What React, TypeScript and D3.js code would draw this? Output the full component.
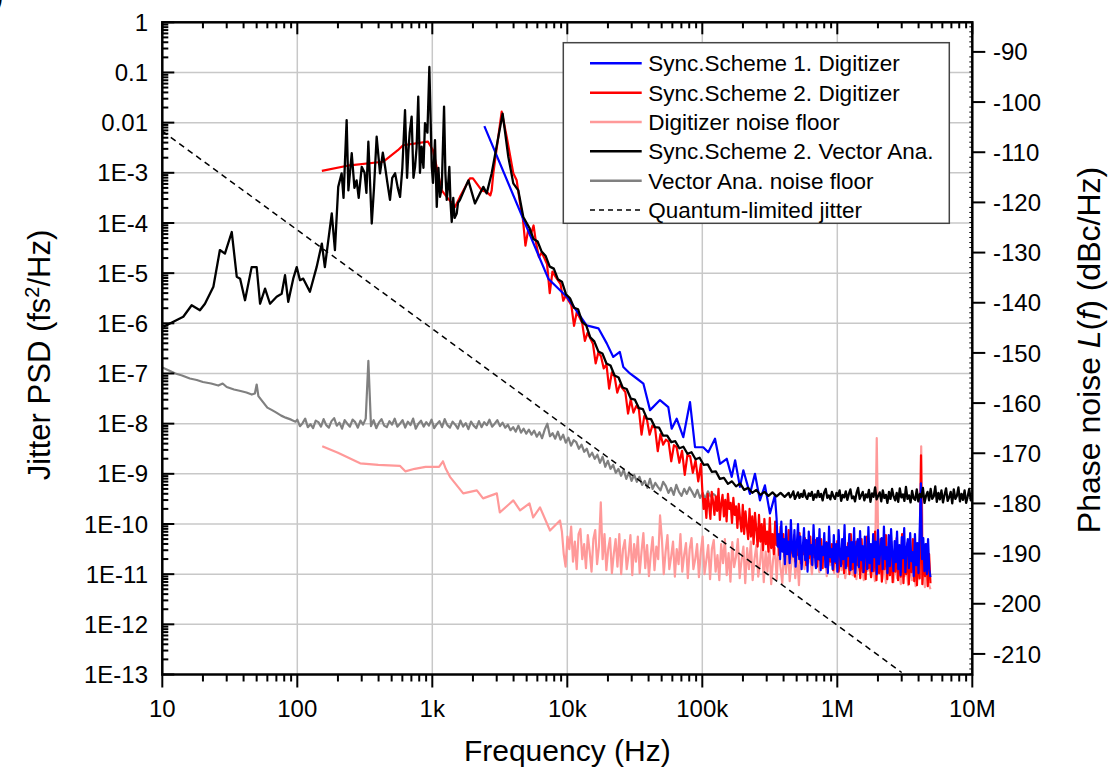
import React from "react";
import * as d3 from "d3";

const WIDTH = 1111;
const HEIGHT = 774;
const PLOT = { left: 162.3, right: 972.3, top: 22.3, bottom: 674.5 };
const FONT = "'Liberation Sans', Arial, Helvetica, sans-serif";

// ---- axes ----
const freqTicks = [10, 100, 1e3, 1e4, 1e5, 1e6, 1e7];
const freqTickLabels = ["10", "100", "1k", "10k", "100k", "1M", "10M"];
const psdTicks = [1, 0.1, 0.01, 1e-3, 1e-4, 1e-5, 1e-6, 1e-7, 1e-8, 1e-9, 1e-10, 1e-11, 1e-12, 1e-13];
const psdTickLabels = ["1", "0.1", "0.01", "1E-3", "1E-4", "1E-5", "1E-6", "1E-7", "1E-8", "1E-9", "1E-10", "1E-11", "1E-12", "1E-13"];
const phaseTicks = [-90, -100, -110, -120, -130, -140, -150, -160, -170, -180, -190, -200, -210];
// L(f) in dBc/Hz at the bottom and top edges of the plot
const phaseDomain = [-214.1, -84.1];

const legendLabels = [
  "Sync.Scheme 1. Digitizer",
  "Sync.Scheme 2. Digitizer",
  "Digitizer noise floor",
  "Sync.Scheme 2. Vector Ana.",
  "Vector Ana. noise floor",
  "Quantum-limited jitter",
];

// ---- data: jitter PSD as log10(fs^2/Hz) ----
// Listed points: frequency in Hz. Swept parts: log10(Hz) start/stop of an evenly log-spaced sweep.

// Sync.Scheme 2, vector analyzer
const vaHeadFreq = [10.2, 14.3, 16.5, 19, 20.7, 23.9, 26.7, 29.1, 32.7, 35.6, 37.7, 41, 45.9, 50, 53, 57.7, 62.8, 70.3, 76.6, 81.1, 85.7, 93.3, 99, 104.7, 110.7, 124, 139, 152, 160, 180, 190, 201, 213, 220, 232, 239, 253, 265, 275, 285, 300, 315, 325, 336, 356, 370, 387, 410, 430, 447, 465, 486, 505, 530, 555, 577, 600, 628, 650, 664, 680, 703, 725, 745, 765, 787, 810, 834, 860, 883, 920, 951, 991, 1012, 1047, 1079, 1110, 1140, 1175, 1222, 1250, 1279, 1305, 1337, 1365, 1393, 1430, 1463, 1517, 1550, 1603, 1849, 2070, 2254, 2388, 2529, 2754, 3319, 3656, 3981, 4335, 4721];
const vaHeadLog = [-6.07, -5.87, -5.64, -5.74, -5.61, -5.27, -4.54, -4.61, -4.18, -5.07, -5.11, -5.54, -4.88, -4.88, -5.61, -5.31, -5.61, -5.47, -5.41, -5.04, -5.57, -5.11, -4.88, -5.14, -5.11, -5.37, -4.88, -4.41, -4.88, -3.81, -4.54, -3.28, -3.01, -3.5, -1.95, -3.35, -2.61, -3.3, -3.15, -3.5, -2.88, -3.0, -3.4, -2.38, -4.01, -3.3, -2.28, -3.01, -2.6, -2.88, -3.2, -3.54, -3.1, -3.01, -3.3, -3.48, -2.9, -1.75, -3.1, -2.61, -2.2, -1.88, -3.1, -2.88, -2.5, -1.48, -3.0, -2.48, -2.9, -2.01, -2.2, -0.89, -2.88, -3.2, -2.35, -3.68, -2.9, -3.48, -3.3, -1.68, -3.0, -3.54, -3.3, -2.88, -3.6, -3.98, -3.5, -3.9, -3.81, -3.6, -3.54, -3.15, -3.61, -3.41, -3.28, -3.41, -3.01, -1.82, -2.68, -3.21, -3.35, -3.88];
const vaMidSweep = [3.72, 5.61];
const vaMidLog = [
  -4.1, -4.32, -4.37, -4.57, -4.66, -4.87, -4.91, -5.12, -5.17, -5.42,
  -5.5, -5.69, -5.72, -5.97, -6.04, -6.28, -6.36, -6.56, -6.6, -6.8,
  -6.84, -7.04, -7.08, -7.28, -7.31, -7.5, -7.52, -7.69, -7.71, -7.9,
  -7.91, -8.07, -8.08, -8.24, -8.24, -8.37, -8.35, -8.49, -8.46, -8.6,
  -8.57, -8.71, -8.68, -8.82, -8.81, -8.96, -8.95, -9.1, -9.08, -9.2,
  -9.15, -9.25, -9.19, -9.32, -9.28, -9.38, -9.32, -9.42, -9.36, -9.44,
  -9.37, -9.45, -9.38, -9.46,
];
const vaFloorSweep = [5.64, 7.0];
const vaFloorLog = [
  -9.38, -9.47, -9.42, -9.35, -9.5, -9.44, -9.37, -9.48, -9.4, -9.46,
  -9.33, -9.45, -9.5, -9.39, -9.44, -9.36, -9.52, -9.41, -9.47, -9.34,
  -9.46, -9.4, -9.53, -9.37, -9.3, -9.48, -9.43, -9.51, -9.36, -9.45,
  -9.5, -9.38, -9.44, -9.33, -9.54, -9.42, -9.47, -9.35, -9.52, -9.4,
  -9.31, -9.49, -9.45, -9.55, -9.38, -9.28, -9.5, -9.43, -9.36, -9.53,
  -9.41, -9.47, -9.32, -9.56, -9.39, -9.46, -9.27, -9.51, -9.44, -9.37,
  -9.55, -9.33, -9.48, -9.42, -9.58, -9.36, -9.5, -9.3, -9.45, -9.53,
  -9.38, -9.56, -9.29, -9.47, -9.41, -9.54, -9.26, -9.5, -9.43, -9.57,
  -9.34, -9.49, -9.52, -9.31, -9.55, -9.4, -9.47, -9.28, -9.58, -9.44,
  -9.36, -9.53, -9.3, -9.5, -9.45, -9.25, -9.56, -9.38, -9.51, -9.33,
  -9.57, -9.42, -9.29, -9.54, -9.47, -9.36, -9.59, -9.31, -9.5, -9.44,
  -9.27, -9.55, -9.4, -9.52, -9.33, -9.58, -9.45, -9.3, -9.53, -9.42,
];

// Vector analyzer noise floor
const vaNoiseHeadFreq = [10, 11, 12.5, 14, 16, 18, 20, 23, 26, 28, 30, 34, 38, 42, 46, 48.5, 50, 51.5, 55, 60, 65, 70, 76, 82, 90, 97];
const vaNoiseHeadLog = [-6.88, -6.93, -7.0, -7.04, -7.1, -7.13, -7.17, -7.2, -7.24, -7.2, -7.27, -7.32, -7.35, -7.38, -7.42, -7.4, -7.22, -7.45, -7.55, -7.68, -7.73, -7.78, -7.84, -7.88, -7.92, -7.96];
const vaNoiseSweep = [2.0, 5.1];
const vaNoiseLog = [
  -7.92, -8.05, -7.99, -7.9, -8.07, -8.01, -8.09, -7.94, -7.97, -8.06,
  -7.91, -8.03, -8.08, -7.95, -7.89, -8.04, -7.98, -8.1, -7.93, -8.0,
  -8.06, -7.92, -7.97, -8.08, -7.94, -8.02, -7.9, -6.75, -8.05, -7.93,
  -8.09, -7.98, -7.91, -8.04, -8.07, -7.95, -8.02, -7.9, -8.06, -8.0,
  -7.93, -8.08, -7.96, -8.03, -7.9, -8.1, -8.0, -7.94, -8.06, -7.97,
  -8.04, -7.92, -8.09, -8.01, -7.95, -8.07, -7.91, -8.03, -8.08, -7.96,
  -8.02, -8.1, -7.94, -8.06, -7.99, -8.11, -7.96, -8.04, -8.09, -7.95,
  -8.07, -7.97, -8.03, -7.92, -8.06, -8.0, -7.93, -8.05, -7.98, -8.08,
  -8.02, -8.13, -8.07, -8.16, -8.04, -8.18, -8.1, -8.2, -8.12, -8.22,
  -8.14, -8.26, -8.17, -8.29, -8.12, -8.0, -8.25, -8.19, -8.3, -8.16,
  -8.32, -8.22, -8.38, -8.28, -8.44, -8.33, -8.37, -8.5, -8.42, -8.56,
  -8.5, -8.66, -8.58, -8.7, -8.62, -8.78, -8.66, -8.86, -8.74, -8.9,
  -8.82, -8.98, -8.9, -9.04, -8.92, -9.1, -8.97, -9.14, -9.02, -9.16,
  -9.06, -9.22, -9.14, -9.28, -9.1, -9.3, -9.18, -9.26, -9.33, -9.16,
  -9.24, -9.38, -9.28, -9.42, -9.22, -9.36, -9.44, -9.3, -9.4, -9.27,
  -9.36, -9.46, -9.32, -9.48, -9.38, -9.5, -9.35, -9.45, -9.4, -9.44,
];

// Sync.Scheme 2, digitizer
const dig2HeadFreq = [152, 245, 432, 556, 607, 929, 1012, 1175, 1279, 1472, 1603, 1901, 2000, 2323, 2529, 2690, 2754, 2831, 3266, 3556, 3981, 4217];
const dig2HeadLog = [-2.96, -2.85, -2.78, -2.55, -2.45, -2.38, -2.55, -3.35, -3.48, -3.68, -3.48, -3.11, -3.11, -3.35, -3.38, -3.45, -3.35, -3.01, -1.78, -2.28, -3.01, -3.15];
const dig2MidSweep = [3.65, 4.99];
const dig2MidLog = [
  -3.61, -3.89, -4.45, -4.14, -4.23, -4.05, -4.42, -4.68, -4.59, -4.7,
  -4.82, -5.4, -4.97, -5.06, -5.14, -5.22, -5.55, -5.44, -5.55, -5.64,
  -6.05, -5.78, -5.88, -5.99, -6.35, -6.19, -6.3, -6.41, -6.8, -6.58,
  -6.66, -6.9, -6.82, -7.3, -6.98, -7.06, -7.38, -7.22, -7.3, -7.37,
  -7.8, -7.52, -7.78, -7.65, -7.71, -8.22, -7.85, -7.92, -8.22, -8.04,
  -8.09, -8.55, -8.21, -8.42, -8.32, -8.36, -8.75, -8.43, -8.47, -8.78,
  -8.54, -9.02, -8.62, -8.65, -8.98, -8.73, -9.15, -8.8,
];
const dig2TailSweep = [5.0, 6.69];
const dig2TailLog = [
  -9.32, -9.7, -9.5, -9.88, -9.4, -9.62, -9.9, -9.36, -9.55, -9.82,
  -9.45, -9.74, -9.3, -9.92, -9.6, -9.42, -9.85, -9.52, -9.95, -9.4,
  -9.7, -9.58, -9.98, -9.48, -9.82, -9.65, -10.08, -9.6, -9.9, -10.15,
  -9.62, -10.2, -9.75, -10.05, -10.3, -9.7, -10.25, -9.85, -10.4, -9.78,
  -10.1, -10.45, -9.82, -10.35, -10.0, -10.52, -9.9, -10.4, -10.15, -10.55,
  -9.88, -10.48, -10.2, -10.6, -9.95, -10.42, -10.25, -10.62, -10.05, -10.5,
  -10.2, -10.65, -10.3, -10.52, -10.12, -10.7, -10.38, -10.58, -10.22, -10.75,
  -10.35, -10.62, -10.18, -10.78, -10.45, -10.6, -10.28, -10.82, -10.4, -10.68,
  -10.25, -10.8, -10.5, -10.66, -10.32, -10.85, -10.42, -10.72, -10.3, -10.88,
  -10.48, -10.7, -10.36, -10.9, -10.55, -10.75, -10.4, -10.92, -10.5, -10.78,
  -10.34, -10.95, -10.6, -10.8, -10.42, -10.98, -10.52, -10.84, -10.38, -11.0,
  -10.2, -10.9, -10.55, -11.05, -10.35, -10.82, -10.62, -11.08, -10.3, -10.96,
  -10.5, -11.1, -10.25, -10.88, -10.6, -11.06, -10.4, -10.94, -10.15, -11.12,
  -10.45, -10.98, -10.3, -11.15, -10.58, -10.9, -10.22, -11.1, -10.5, -11.02,
  -10.35, -11.16, -10.62, -10.95, -10.28, -11.12, -10.48, -11.05, -10.2, -11.18,
  -10.55, -11.0, -10.38, -11.2, -10.6, -10.96, -10.3, -11.14, -10.52, -11.22,
  -10.42, -11.08, -8.63, -11.2, -10.55, -11.04, -10.4, -11.24, -10.6, -11.18,
];

// Sync.Scheme 1, digitizer
const dig1HeadFreq = [2430, 7230, 9900, 13900, 17000, 19600, 21900, 24500, 26000, 29100, 32700, 36600, 41000, 48600, 56000, 59300, 64600, 72300, 81100, 88300, 101600, 110700, 124200, 135200, 151700, 165200, 175000, 190100, 201400, 225400, 245500, 267300, 291100, 317000, 345100];
const dig1HeadLog = [-2.07, -5.11, -5.47, -6.04, -6.1, -6.4, -6.67, -6.57, -6.87, -7.0, -7.1, -7.2, -7.73, -7.53, -7.67, -8.1, -7.9, -8.27, -7.57, -8.47, -8.47, -8.57, -8.3, -8.8, -8.7, -9.06, -8.73, -9.26, -8.93, -9.4, -9.0, -9.53, -9.23, -9.79, -9.43];
const dig1TailSweep = [5.55, 6.69];
const dig1TailLog = [
  -9.88, -10.45, -10.2, -10.7, -9.95, -10.55, -10.3, -10.8, -10.05, -10.6,
  -10.35, -10.78, -9.92, -10.5, -10.65, -10.12, -10.85, -10.4, -10.0, -10.7,
  -10.25, -10.9, -10.48, -10.08, -10.72, -10.32, -10.95, -10.15, -10.6, -10.42,
  -10.82, -10.02, -10.55, -10.88, -10.28, -10.7, -10.1, -10.92, -10.45, -10.62,
  -10.18, -10.86, -10.38, -10.98, -10.05, -10.66, -10.5, -10.9, -10.22, -10.75,
  -10.4, -10.95, -10.12, -10.58, -10.84, -10.3, -10.7, -10.02, -10.88, -10.46,
  -10.64, -10.2, -10.92, -10.36, -10.76, -10.08, -10.98, -10.5, -10.3, -10.86,
  -10.14, -10.72, -10.44, -10.96, -10.25, -10.6, -10.9, -10.06, -10.78, -10.4,
  -10.94, -10.2, -10.66, -10.35, -11.0, -10.12, -10.8, -10.52, -10.28, -10.9,
  -10.05, -10.7, -10.46, -10.98, -10.22, -10.84, -10.1, -10.62, -10.94, -10.34,
  -10.76, -10.15, -10.9, -10.42, -11.02, -10.26, -10.68, -10.08, -10.96, -10.5,
  -10.3, -10.88, -10.18, -10.74, -10.56, -11.04, -10.2, -10.82, -10.38, -10.98,
  -10.12, -9.19, -10.7, -10.28, -10.94, -10.4, -11.0, -10.3, -10.9, -11.06,
];

// Digitizer noise floor
const digNoiseHeadFreq = [153, 200, 292, 398, 575, 631, 741, 891, 1122, 1200, 1259, 1352, 1694, 2138, 2377, 3006, 3162, 3981, 4467, 5248, 5585, 6281, 7447, 8831];
const digNoiseHeadLog = [-8.45, -8.58, -8.79, -8.82, -8.84, -8.95, -8.9, -8.86, -8.86, -8.75, -8.9, -9.06, -9.39, -9.33, -9.49, -9.39, -9.77, -9.53, -9.73, -9.59, -9.87, -9.67, -10.13, -9.93];
const digNoiseSweep = [3.96, 6.69];
const digNoiseLog = [
  -10.15, -10.6, -10.85, -10.25, -10.5, -10.05, -10.75, -10.35, -10.9, -10.2,
  -10.1, -10.7, -10.4, -10.88, -10.22, -10.55, -10.95, -10.3, -10.12, -10.8,
  -10.45, -9.57, -10.7, -10.2, -10.92, -10.5, -10.28, -10.98, -10.6, -10.3,
  -10.85, -10.2, -11.0, -10.5, -10.32, -10.9, -10.62, -10.22, -11.02, -10.4,
  -10.75, -10.25, -10.98, -10.55, -10.18, -10.88, -10.42, -11.04, -10.6, -10.26,
  -10.92, -10.45, -10.7, -9.83, -10.3, -11.0, -10.55, -10.22, -10.9, -10.65,
  -10.35, -11.05, -10.5, -10.8, -10.2, -10.95, -10.62, -10.38, -11.08, -10.5,
  -10.28, -10.9, -10.7, -10.4, -11.06, -10.55, -10.25, -11.0, -10.72, -10.42,
  -11.1, -10.5, -10.32, -10.95, -10.62, -11.12, -10.4, -10.78, -10.3, -11.02,
  -10.58, -11.15, -10.36, -10.86, -10.66, -10.3, -11.08, -10.72, -10.45, -11.18,
  -10.48, -10.9, -10.35, -11.12, -10.7, -10.42, -11.05, -10.78, -10.32, -11.16,
  -10.55, -10.95, -10.4, -11.2, -10.72, -10.48, -11.1, -10.38, -10.85, -11.18,
  -10.5, -10.98, -10.42, -11.14, -10.75, -10.36, -11.08, -10.62, -11.22, -10.48,
  -10.68, -10.9, -10.52, -10.78, -10.62, -11.0, -10.56, -10.84, -10.7, -10.96,
  -10.6, -10.88, -10.66, -11.04, -10.58, -10.82, -10.72, -10.98, -10.62, -11.06,
  -10.7, -10.92, -10.64, -11.08, -10.76, -10.9, -10.68, -11.02, -10.74, -11.1,
  -10.72, -10.96, -10.8, -11.12, -10.7, -10.94, -10.84, -11.06, -10.76, -11.14,
  -8.29, -10.98, -10.8, -11.1, -10.74, -11.18, -10.86, -11.02, -10.82, -11.16,
  -10.78, -11.08, -10.9, -11.2, -10.8, -11.04, -10.88, -11.22, -10.84, -11.12,
  -10.92, -11.24, -10.86, -11.1, -8.45, -10.9, -11.26, -10.94, -11.18, -11.3,
];

// Quantum-limited jitter (1/f^2 line)
const quantumFreq = [10, 3e6];
const quantumLog = [-2.17, -12.96];

type Pt = [number, number];
const listed = (freq: number[], logs: number[]): Pt[] => freq.map((f, i) => [f, Math.pow(10, logs[i])]);
const swept = (sweep: number[], logs: number[]): Pt[] =>
  logs.map((v, i) => [Math.pow(10, sweep[0] + ((sweep[1] - sweep[0]) * i) / (logs.length - 1)), Math.pow(10, v)]);

const vaNoise = [...listed(vaNoiseHeadFreq, vaNoiseHeadLog), ...swept(vaNoiseSweep, vaNoiseLog)];
const digNoise = [...listed(digNoiseHeadFreq, digNoiseHeadLog), ...swept(digNoiseSweep, digNoiseLog)];
const dig2 = [...listed(dig2HeadFreq, dig2HeadLog), ...swept(dig2MidSweep, dig2MidLog), ...swept(dig2TailSweep, dig2TailLog)];
const dig1 = [...listed(dig1HeadFreq, dig1HeadLog), ...swept(dig1TailSweep, dig1TailLog)];
const va2 = [...listed(vaHeadFreq, vaHeadLog), ...swept(vaMidSweep, vaMidLog), ...swept(vaFloorSweep, vaFloorLog)];
const quantum = listed(quantumFreq, quantumLog);

const COLORS = { dig1: "#0000ff", dig2: "#ff0000", digNoise: "#ff9999", va2: "#000000", vaNoise: "#808080", quantum: "#000000" };

export default function App() {
  const x = d3.scaleLog().domain([10, 1e7]).range([PLOT.left, PLOT.right]);
  const y = d3.scaleLog().domain([1e-13, 1]).range([PLOT.bottom, PLOT.top]);
  const yPhase = d3.scaleLinear().domain(phaseDomain).range([PLOT.bottom, PLOT.top]);
  const line = d3
    .line<Pt>()
    .x((d) => x(d[0]))
    .y((d) => y(d[1]));

  const minorX: number[] = [];
  for (let e = 1; e < 7; e++) for (let k = 2; k <= 9; k++) minorX.push(k * Math.pow(10, e));
  const minorY: number[] = [];
  for (let e = -13; e < 0; e++) for (let k = 2; k <= 9; k++) minorY.push(k * Math.pow(10, e));
  const minorPhase = d3.range(-214, -84, 1).filter((v) => v % 10 !== 0);

  const plotted = [
    { pts: vaNoise, color: COLORS.vaNoise, w: 2.2 },
    { pts: digNoise, color: COLORS.digNoise, w: 2.2 },
    { pts: dig2, color: COLORS.dig2, w: 2.2 },
    { pts: dig1, color: COLORS.dig1, w: 2.2 },
    { pts: va2, color: COLORS.va2, w: 2.3 },
  ];

  const legendItems = [
    { color: COLORS.dig1, dash: null },
    { color: COLORS.dig2, dash: null },
    { color: COLORS.digNoise, dash: null },
    { color: COLORS.va2, dash: null },
    { color: COLORS.vaNoise, dash: null },
    { color: COLORS.quantum, dash: "5,4" },
  ];

  return (
    <svg
      width={WIDTH}
      height={HEIGHT}
      style={{ position: "absolute", left: 0, top: 0, background: "#fff" }}
      fontFamily={FONT}
    >
      <rect x={0} y={0} width={WIDTH} height={HEIGHT} fill="#fff" />
      <text x={-7} y={6} fontSize={32} fill="#000">)</text>
      <defs>
        <clipPath id="plot-clip">
          <rect x={PLOT.left} y={PLOT.top} width={PLOT.right - PLOT.left} height={PLOT.bottom - PLOT.top} />
        </clipPath>
      </defs>

      {/* grid */}
      <g stroke="#c8c8c8" strokeWidth={1.5}>
        {freqTicks.slice(1, -1).map((f) => (
          <line key={"gx" + f} x1={x(f)} x2={x(f)} y1={PLOT.top} y2={PLOT.bottom} />
        ))}
        {psdTicks.slice(1, -1).map((v) => (
          <line key={"gy" + v} x1={PLOT.left} x2={PLOT.right} y1={y(v)} y2={y(v)} />
        ))}
      </g>

      {/* traces */}
      <g clipPath="url(#plot-clip)" fill="none" strokeLinejoin="round">
        {plotted.map((s, i) => (
          <path key={i} d={line(s.pts) || ""} stroke={s.color} strokeWidth={s.w} />
        ))}
        <path d={line(quantum) || ""} stroke={COLORS.quantum} strokeWidth={1.5} strokeDasharray="6,4.5" />
      </g>

      {/* ticks */}
      <g stroke="#000" strokeWidth={2}>
        {freqTicks.map((f) => (
          <g key={"tx" + f}>
            <line x1={x(f)} x2={x(f)} y1={PLOT.bottom} y2={PLOT.bottom + 13} />
            <line x1={x(f)} x2={x(f)} y1={PLOT.top} y2={PLOT.top + 12} />
          </g>
        ))}
        {minorX.map((f) => (
          <g key={"mx" + f}>
            <line x1={x(f)} x2={x(f)} y1={PLOT.bottom} y2={PLOT.bottom + 7} />
            <line x1={x(f)} x2={x(f)} y1={PLOT.top} y2={PLOT.top + 6} />
          </g>
        ))}
        {psdTicks.map((v) => (
          <line key={"ty" + v} x1={PLOT.left} x2={PLOT.left + 12} y1={y(v)} y2={y(v)} />
        ))}
        {minorY.map((v) => (
          <line key={"my" + v} x1={PLOT.left} x2={PLOT.left + 6} y1={y(v)} y2={y(v)} />
        ))}
        {phaseTicks.map((v) => (
          <line key={"tp" + v} x1={PLOT.right} x2={PLOT.right + 13} y1={yPhase(v)} y2={yPhase(v)} />
        ))}
      </g>
      <g stroke="#000" strokeWidth={1}>
        {minorPhase.map((v) => (
          <line key={"mp" + v} x1={PLOT.right - 3} x2={PLOT.right} y1={yPhase(v)} y2={yPhase(v)} />
        ))}
      </g>

      {/* frame */}
      <rect
        x={PLOT.left}
        y={PLOT.top}
        width={PLOT.right - PLOT.left}
        height={PLOT.bottom - PLOT.top}
        fill="none"
        stroke="#000"
        strokeWidth={2.5}
      />

      {/* tick labels */}
      <g fontSize={24} fill="#000">
        {freqTicks.map((f, i) => (
          <text key={"lx" + f} x={x(f)} y={716.5} textAnchor="middle">
            {freqTickLabels[i]}
          </text>
        ))}
        {psdTicks.map((v, i) => (
          <text key={"ly" + v} x={148} y={y(v) + 8.6} textAnchor="end">
            {psdTickLabels[i]}
          </text>
        ))}
        {phaseTicks.map((v) => (
          <text key={"lp" + v} x={993} y={yPhase(v) + 8.6} textAnchor="start">
            {String(v)}
          </text>
        ))}
      </g>

      {/* axis titles */}
      <g fill="#000">
        <text x={(PLOT.left + PLOT.right) / 2} y={761} textAnchor="middle" fontSize={30}>
          Frequency (Hz)
        </text>
        <text transform="translate(50,355) rotate(-90)" textAnchor="middle" fontSize={31}>
          Jitter PSD (fs
          <tspan dy={-11} fontSize={20}>2</tspan>
          <tspan dy={11}>/Hz)</tspan>
        </text>
        <text transform="translate(1100,350) rotate(-90)" textAnchor="middle" fontSize={32}>
          Phase noise <tspan fontStyle="italic">L</tspan>(<tspan fontStyle="italic">f</tspan>) (dBc/Hz)
        </text>
      </g>

      {/* legend */}
      <g>
        <rect x={563.3} y={42.7} width={386} height={180.6} fill="#fff" stroke="#444" strokeWidth={1.5} />
        {legendLabels.map((label, i) => {
          const ly = 63.3 + i * 29.35;
          const it = legendItems[i];
          return (
            <g key={label}>
              <line
                x1={590}
                x2={641.7}
                y1={ly}
                y2={ly}
                stroke={it.color}
                strokeWidth={it.dash ? 1.5 : 2.5}
                strokeDasharray={it.dash || undefined}
              />
              <text x={648.3} y={ly + 8} fontSize={22.5} fill="#000">
                {label}
              </text>
            </g>
          );
        })}
      </g>
    </svg>
  );
}
